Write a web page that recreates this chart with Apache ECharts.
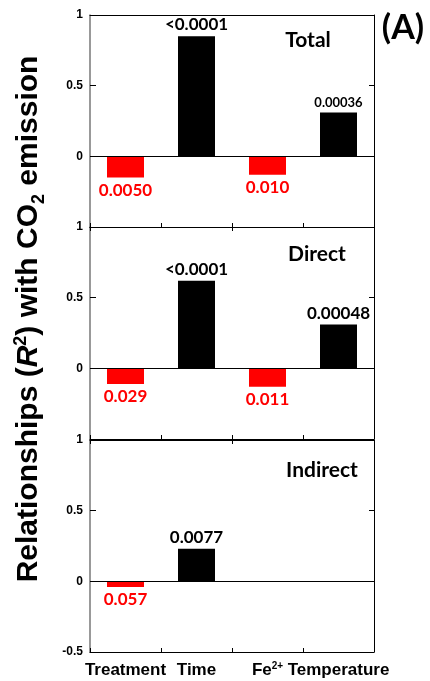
<!DOCTYPE html>
<html>
<head>
<meta charset="utf-8">
<script src="https://cdn.jsdelivr.net/npm/echarts@6/dist/echarts.min.js"></script>
<style>
  html, body { margin: 0; padding: 0; background: #fff; }
  #chart { width: 430px; height: 681px; }
</style>
</head>
<body>
<div id="chart"></div>
<script>
// Predictors on the shared category axis
const categories = ['Treatment', 'Time', 'Fe2+', 'Temperature'];

// Panel names
const panelNames = ['Total', 'Direct', 'Indirect'];

// R² values (negative = negative relationship) and their P values
const totalR2 = [-0.15, 0.85, -0.13, 0.31];
const totalP = ['0.0050', '<0.0001', '0.010', '0.00036'];

const directR2 = [-0.11, 0.62, -0.13, 0.31];
const directP = ['0.029', '<0.0001', '0.011', '0.00048'];

const indirectR2 = [-0.04, 0.23, null, null];
const indirectP = ['0.057', '0.0077', '', ''];

// Value-axis ticks
const yTicks = [-0.5, 0, 0.5, 1];

const panels = [
  { name: panelNames[0], values: totalR2, pvals: totalP },
  { name: panelNames[1], values: directR2, pvals: directP },
  { name: panelNames[2], values: indirectR2, pvals: indirectP }
];

// Layout and styling
const gridTops = [15, 227, 440];
const gridHeight = 212;
const gridLeft = 90;
const gridRight = 56;
const titlePos = [[308, 40], [317, 254], [322, 470]];
const labelSizeOverride = { '0-3': 13 };
const NUM_FONT = 'Lato';
const AXIS_FONT = 'Arial';

const yMin = yTicks[0];
const yMax = yTicks[yTicks.length - 1];
const yStep = yTicks[1] - yTicks[0];

const chart = echarts.init(document.getElementById('chart'), null, { renderer: 'canvas' });

const grid = [], xAxis = [], yAxis = [], series = [], graphic = [];

panels.forEach((p, i) => {
  const last = i === panels.length - 1;
  grid.push({ left: gridLeft, right: gridRight, top: gridTops[i], height: gridHeight, containLabel: false });

  // bottom category axis
  xAxis.push({
    type: 'category', gridIndex: i, data: categories, position: 'bottom',
    axisLine: { onZero: false, lineStyle: { color: '#000', width: 1 } },
    axisTick: { show: true, inside: true, length: 4, lineStyle: { color: '#000' } },
    axisLabel: {
      show: last, margin: 9, interval: 0, color: '#000',
      fontFamily: AXIS_FONT, fontWeight: 'bold', fontSize: 17,
      formatter: v => v === 'Fe2+' ? '{b|Fe}{s|2+}' : '{b|' + v + '}',
      rich: {
        b: { fontFamily: AXIS_FONT, fontWeight: 'bold', fontSize: 17, color: '#000', lineHeight: 19 },
        s: { fontFamily: AXIS_FONT, fontWeight: 'bold', fontSize: 10, color: '#000', verticalAlign: 'top', lineHeight: 19 }
      }
    },
    splitLine: { show: false }
  });
  // top border axis
  xAxis.push({
    type: 'category', gridIndex: i, data: categories, position: 'top',
    axisLine: { onZero: false, lineStyle: { color: '#000', width: 1 } },
    axisTick: { show: i > 0, inside: true, length: 4, lineStyle: { color: '#000' } },
    axisLabel: { show: false },
    splitLine: { show: false }
  });

  // left value axis
  yAxis.push({
    type: 'value', gridIndex: i, min: yMin, max: yMax, interval: yStep,
    axisLine: { show: true, lineStyle: { color: '#777', width: 1.5 } },
    axisTick: { show: true, inside: true, length: 6, lineStyle: { color: '#000' } },
    axisLabel: {
      show: true, margin: 7, color: '#000', fontFamily: AXIS_FONT, fontWeight: 'bold', fontSize: 12,
      formatter: v => (!last && v === yMin) ? '' : String(v)
    },
    splitLine: { show: false }
  });
  // right border axis
  yAxis.push({
    type: 'value', gridIndex: i, min: yMin, max: yMax, interval: yStep, position: 'right',
    axisLine: { show: true, lineStyle: { color: '#000', width: 1 } },
    axisTick: { show: true, inside: true, length: 5, lineStyle: { color: '#000' } },
    axisLabel: { show: false },
    splitLine: { show: false }
  });

  series.push({
    type: 'bar',
    xAxisIndex: i * 2, yAxisIndex: i * 2,
    barWidth: 37,
    data: p.values.map((v, k) => {
      const neg = v !== null && v < 0;
      const col = neg ? '#ff0000' : '#000000';
      return {
        value: v,
        itemStyle: { color: col },
        label: {
          show: v !== null,
          position: 'outside',
          distance: neg ? 4 : 3,
          formatter: () => p.pvals[k],
          color: col,
          fontFamily: NUM_FONT,
          fontWeight: 'bold',
          fontSize: labelSizeOverride[i + '-' + k] || 17
        }
      };
    }),
    markLine: {
      silent: true, symbol: 'none', animation: false,
      label: { show: false },
      lineStyle: { color: '#000', width: 1, type: 'solid' },
      data: [{ yAxis: 0 }]
    },
    animation: false
  });

  graphic.push({
    type: 'text', x: titlePos[i][0], y: titlePos[i][1], silent: true,
    style: {
      text: p.name, fill: '#000', fontFamily: NUM_FONT, fontWeight: 'bold', fontSize: 21,
      align: 'center', verticalAlign: 'middle'
    }
  });
});

// panel letter
graphic.push({
  type: 'text', x: 403, y: 28, silent: true,
  style: { text: '(A)', fill: '#000', fontFamily: NUM_FONT, fontWeight: 'bold', fontSize: 34, align: 'center', verticalAlign: 'middle' }
});

// rotated value-axis title
graphic.push({
  type: 'text', x: 29, y: 319, rotation: Math.PI / 2, silent: true,
  style: {
    text: '{a|Relationships (}{i|R}{p|2}{a|) with CO}{d|2}{a| emission}',
    align: 'center', verticalAlign: 'middle',
    rich: {
      a: { fontFamily: AXIS_FONT, fontWeight: 'bold', fontSize: 30, fill: '#000', lineHeight: 39, verticalAlign: 'middle' },
      i: { fontFamily: AXIS_FONT, fontWeight: 'bold', fontStyle: 'italic', fontSize: 30, fill: '#000', lineHeight: 39, verticalAlign: 'middle' },
      p: { fontFamily: AXIS_FONT, fontWeight: 'bold', fontSize: 18, fill: '#000', lineHeight: 39, verticalAlign: 'top', padding: [3, 0, 0, 0] },
      d: { fontFamily: AXIS_FONT, fontWeight: 'bold', fontSize: 18, fill: '#000', lineHeight: 39, verticalAlign: 'bottom' }
    }
  }
});

chart.setOption({
  backgroundColor: '#fff',
  animation: false,
  grid, xAxis, yAxis, series, graphic
});
</script>
</body>
</html>
